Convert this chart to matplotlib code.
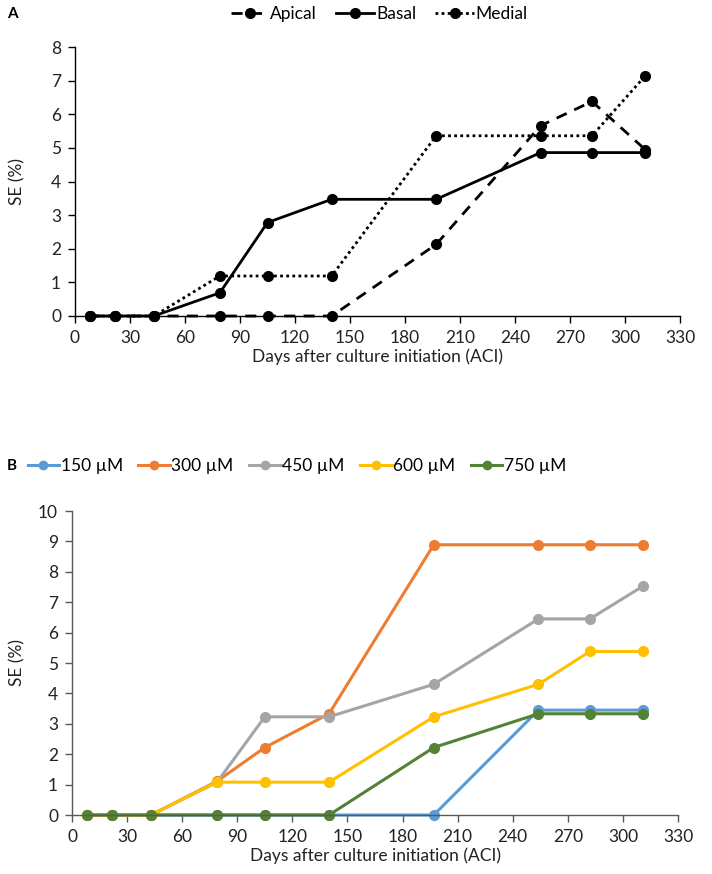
import matplotlib
matplotlib.use("Agg")
import matplotlib.pyplot as plt
from matplotlib.lines import Line2D

plt.rcParams['font.family'] = ['Lato', 'DejaVu Sans']

# days after culture initiation
days = [8, 22, 43, 79, 105, 140, 197, 254, 282, 311]

# panel A: explant position
apical = [0, 0, 0, 0, 0, 0, 2.13, 5.66, 6.38, 4.95]
basal = [0, 0, 0, 0.69, 2.78, 3.47, 3.47, 4.86, 4.86, 4.86]
medial = [0, 0, 0, 1.19, 1.19, 1.19, 5.36, 5.36, 5.36, 7.14]

# panel B: concentration
conc_labels = ['150 µM', '300 µM', '450 µM', '600 µM', '750 µM']
c150 = [0, 0, 0, 0, 0, 0, 0, 3.45, 3.45, 3.45]
c300 = [0, 0, 0, 1.11, 2.22, 3.33, 8.89, 8.89, 8.89, 8.89]
c450 = [0, 0, 0, 1.08, 3.23, 3.23, 4.30, 6.45, 6.45, 7.53]
c600 = [0, 0, 0, 1.08, 1.08, 1.08, 3.23, 4.30, 5.38, 5.38]
c750 = [0, 0, 0, 0, 0, 0, 2.22, 3.33, 3.33, 3.33]
colors = ['#5B9BD5', '#ED7D31', '#A5A5A5', '#FFC000', '#548235']

W, H = 712, 874
fig = plt.figure(figsize=(W / 100, H / 100), dpi=100)

def px_axes(l, t, r, b):
    return fig.add_axes([l / W, 1 - b / H, (r - l) / W, (b - t) / H])

def style(ax, ymax, col, left):
    ax.set_xlim(0, 330)
    ax.set_ylim(0, ymax)
    ax.set_xticks(range(0, 331, 30))
    ax.set_yticks(range(0, ymax + 1))
    for s in ['top', 'right']:
        ax.spines[s].set_visible(False)
    for s in ['left', 'bottom']:
        ax.spines[s].set_color(col)
        ax.spines[s].set_linewidth(1.0)
    ax.tick_params(direction='out', length=5, width=1.0, color=col,
                   labelsize=12.5, labelcolor='#222222', pad=5)
    ax.set_xlabel('Days after culture initiation (ACI)', fontsize=12.5, color='#222222', labelpad=2)
    ax.set_ylabel('SE (%)', fontsize=12.5, color='#222222', va='center')
    w = ax.get_position().width * W
    ax.yaxis.set_label_coords(-(left - 17) / w, 0.5)

# ---- panel A
ax1 = px_axes(75, 47, 680, 316)
ax1.plot(days, apical, color='black', lw=2, ls=(0, (4, 3)), marker='o', ms=7, clip_on=False)
ax1.plot(days, basal, color='black', lw=2, ls='-', marker='o', ms=7, clip_on=False)
ax1.plot(days, medial, color='black', lw=2, ls=(0, (1, 1.2)), marker='o', ms=7, clip_on=False)
style(ax1, 8, 'black', 75)

handles_a = [
    Line2D([], [], color='black', lw=2, ls=(0, (4, 3)), marker='o', ms=7),
    Line2D([], [], color='black', lw=2, ls='-', marker='o', ms=7),
    Line2D([], [], color='black', lw=2, ls=(0, (1, 1.2)), marker='o', ms=7),
]
fig.legend(handles_a, ['Apical', 'Basal', 'Medial'], loc='center', bbox_to_anchor=(379 / W, 1 - 14 / H),
           ncol=3, frameon=False, fontsize=12.5, handlelength=2.2, handletextpad=0.1, columnspacing=1.1)
fig.text(7 / W, 1 - 14 / H, 'A', fontsize=11, fontweight='bold', va='center', ha='left')

# ---- panel B
ax2 = px_axes(72, 511, 678, 815)
for vals, c in zip([c150, c300, c450, c600, c750], colors):
    ax2.plot(days, vals, color=c, lw=2.2, marker='o', ms=7, clip_on=False)
style(ax2, 10, '#595959', 72)

handles_b = [Line2D([], [], color=c, lw=2.2, marker='o', ms=6) for c in colors]
fig.legend(handles_b, conc_labels, loc='center left', bbox_to_anchor=(12 / W, 1 - 466 / H),
           ncol=5, frameon=False, fontsize=12.5, handlelength=1.8, handletextpad=0.1, columnspacing=0.9)
fig.text(7 / W, 1 - 466 / H, 'B', fontsize=11, fontweight='bold', va='center', ha='left')

fig.savefig('out.png', dpi=100)
